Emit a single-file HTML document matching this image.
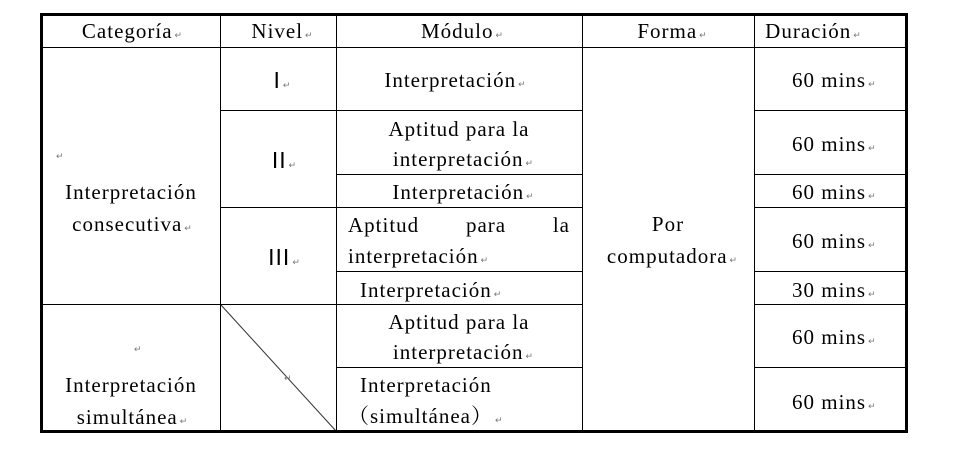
<!DOCTYPE html>
<html><head><meta charset="utf-8"><style>
body{margin:0;background:#fff;width:966px;height:464px;position:relative;overflow:hidden;font-family:"Liberation Serif","Noto Serif CJK SC",serif;font-size:21px;letter-spacing:1px;color:#000}
.t{position:absolute;white-space:nowrap;line-height:24px;height:24px}
.c{transform:translateX(-50%)}
.r{font-size:9px;color:#777;margin-left:2px;letter-spacing:0}
.n{font-family:'Liberation Sans',sans-serif;font-size:23px}
svg{position:absolute;left:0;top:0}
</style></head><body>
<svg width="966" height="464">
<g stroke="#000" stroke-width="1" fill="none">
<line x1="41" y1="47.5" x2="907" y2="47.5"/>
<line x1="220.5" y1="14" x2="220.5" y2="432"/>
<line x1="336.5" y1="14" x2="336.5" y2="432"/>
<line x1="582.5" y1="14" x2="582.5" y2="432"/>
<line x1="754.5" y1="14" x2="754.5" y2="432"/>
<line x1="220" y1="110.5" x2="582" y2="110.5"/>
<line x1="754" y1="110.5" x2="907" y2="110.5"/>
<line x1="336" y1="174.5" x2="582" y2="174.5"/>
<line x1="754" y1="174.5" x2="907" y2="174.5"/>
<line x1="220" y1="207.5" x2="582" y2="207.5"/>
<line x1="754" y1="207.5" x2="907" y2="207.5"/>
<line x1="336" y1="271.5" x2="582" y2="271.5"/>
<line x1="754" y1="271.5" x2="907" y2="271.5"/>
<line x1="41" y1="304.5" x2="582" y2="304.5"/>
<line x1="754" y1="304.5" x2="907" y2="304.5"/>
<line x1="336" y1="367.5" x2="582" y2="367.5"/>
<line x1="754" y1="367.5" x2="907" y2="367.5"/>
<line x1="221" y1="305" x2="336" y2="431" stroke="#333"/>
</g>
<rect x="41.5" y="14.5" width="865" height="417" fill="none" stroke="#000" stroke-width="3"/>
</svg>
<div class="t c" style="left:132px;top:19px">Categoría<span class="r">↵</span></div>
<div class="t c" style="left:282px;top:19px">Nivel<span class="r">↵</span></div>
<div class="t c" style="left:462px;top:19px">Módulo<span class="r">↵</span></div>
<div class="t c" style="left:672px;top:19px">Forma<span class="r">↵</span></div>
<div class="t c" style="left:813px;top:19px">Duración<span class="r">↵</span></div>

<div class="t" style="left:54px;top:140px"><span class="r">↵</span></div>
<div class="t c" style="left:131px;top:180px">Interpretación</div>
<div class="t c" style="left:132px;top:212px">consecutiva<span class="r">↵</span></div>
<div class="t" style="left:132px;top:333px"><span class="r">↵</span></div>
<div class="t c" style="left:131px;top:373px">Interpretación</div>
<div class="t c" style="left:132px;top:405px">simultánea<span class="r">↵</span></div>

<div class="t c n" style="left:282px;top:68px">I<span class="r">↵</span></div>
<div class="t c n" style="left:284px;top:148px">II<span class="r">↵</span></div>
<div class="t c n" style="left:284px;top:245px">III<span class="r">↵</span></div>
<div class="t" style="left:282px;top:362px"><span class="r">↵</span></div>

<div class="t c" style="left:455px;top:68px">Interpretación<span class="r">↵</span></div>
<div class="t c" style="left:459px;top:117px">Aptitud para la</div>
<div class="t c" style="left:463px;top:147px">interpretación<span class="r">↵</span></div>
<div class="t c" style="left:463px;top:180px">Interpretación<span class="r">↵</span></div>
<div class="t" style="left:348px;top:213px;width:222px;display:flex;justify-content:space-between"><span>Aptitud</span><span>para</span><span>la</span></div>
<div class="t" style="left:348px;top:244px">interpretación<span class="r">↵</span></div>
<div class="t" style="left:360px;top:278px">Interpretación<span class="r">↵</span></div>
<div class="t c" style="left:459px;top:310px">Aptitud para la</div>
<div class="t c" style="left:463px;top:340px">interpretación<span class="r">↵</span></div>
<div class="t" style="left:360px;top:373px">Interpretación</div>
<div class="t" style="left:348px;top:404px">（simultánea）<span class="r">↵</span></div>

<div class="t c" style="left:668px;top:212px">Por</div>
<div class="t c" style="left:672px;top:244px">computadora<span class="r">↵</span></div>

<div class="t" style="left:792px;top:68px">60 mins<span class="r">↵</span></div>
<div class="t" style="left:792px;top:132px">60 mins<span class="r">↵</span></div>
<div class="t" style="left:792px;top:180px">60 mins<span class="r">↵</span></div>
<div class="t" style="left:792px;top:229px">60 mins<span class="r">↵</span></div>
<div class="t" style="left:792px;top:278px">30 mins<span class="r">↵</span></div>
<div class="t" style="left:792px;top:325px">60 mins<span class="r">↵</span></div>
<div class="t" style="left:792px;top:390px">60 mins<span class="r">↵</span></div>
</body></html>
